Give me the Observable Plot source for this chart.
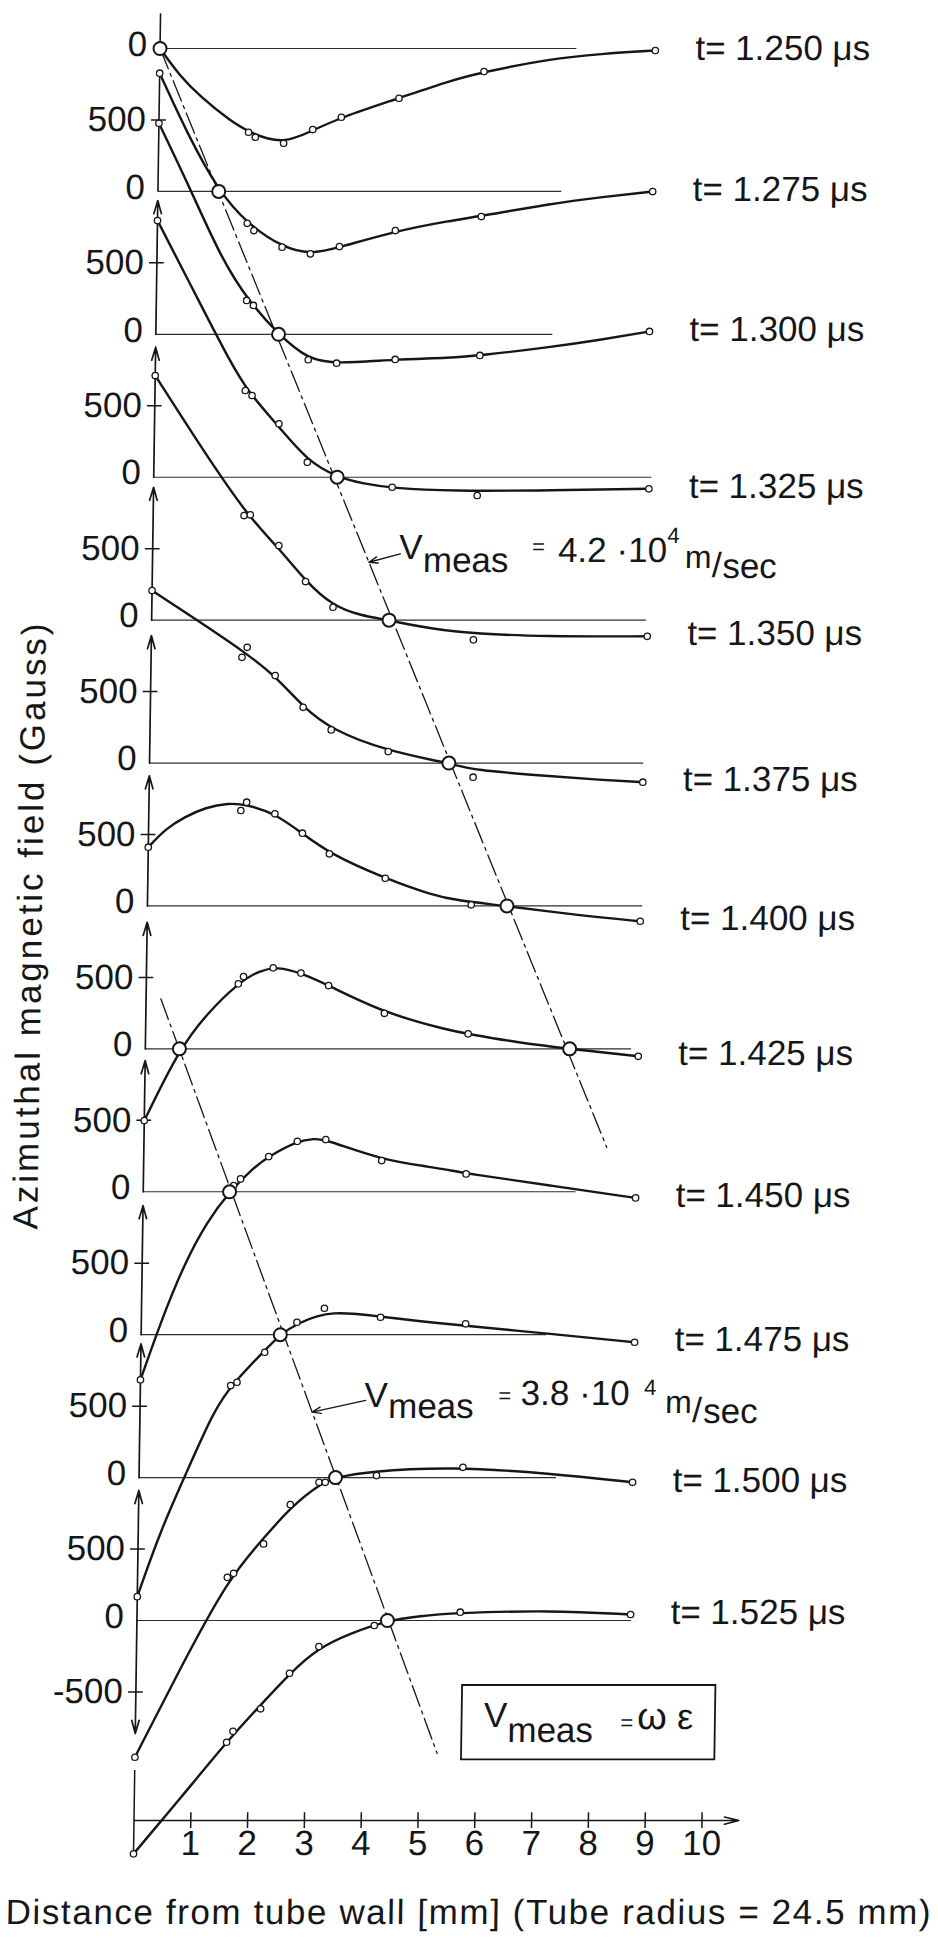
<!DOCTYPE html>
<html>
<head>
<meta charset="utf-8">
<script src="https://cdn.jsdelivr.net/npm/d3@7"></script>
<script src="https://cdn.jsdelivr.net/npm/@observablehq/plot@0.6"></script>
<style>
  html, body { margin: 0; padding: 0; background: #fff; overflow: hidden; }
  #chart { width: 938px; height: 1939px; }
  #chart svg { display: block; }
</style>
</head>
<body>
<div id="chart"></div>
<script>
// Azimuthal magnetic field profiles B(r) at successive times, distance in mm
// from the tube wall, field in Gauss. Each profile is drawn on its own
// baseline, stacked 1000 G apart.

const times = ["1.250", "1.275", "1.300", "1.325", "1.350", "1.375",
               "1.400", "1.425", "1.450", "1.475", "1.500", "1.525"];

// measured probe values [mm, G]
const pts1250 = [[0,0],[1.58,-586],[1.70,-621],[2.20,-663],[2.71,-567],[3.21,-481],[4.22,-348],[5.71,-161],[8.72,-14]];
const pts1275 = [[0,827],[1.58,-223],[1.70,-274],[2.20,-390],[2.70,-437],[3.21,-386],[4.19,-274],[5.70,-176],[8.71,-1]];
const pts1300 = [[0,1477],[1.59,237],[1.71,202],[2.69,-178],[3.19,-202],[4.22,-176],[5.71,-148],[8.69,20]];
const pts1325 = [[0,1796],[1.59,607],[1.71,572],[2.19,374],[2.70,105],[4.20,-70],[5.70,-128],[8.72,-81]];
const pts1350 = [[0,1712],[1.60,732],[1.71,737],[2.22,522],[2.70,270],[3.19,90],[5.67,-138],[8.73,-113]];
const pts1375 = [[0,1207],[1.60,740],[1.69,810],[2.19,612],[2.69,390],[3.19,232],[4.20,80],[5.70,-99],[8.69,-134]];
const pts1400 = [[0,411],[1.62,668],[1.72,726],[2.22,645],[2.71,509],[3.19,365],[4.18,194],[5.70,8],[8.68,-107]];
const pts1425 = [[0,-502],[1.62,455],[1.71,506],[2.23,567],[2.72,530],[3.21,443],[4.20,249],[5.68,105],[8.68,-52]];
const pts1450 = [[0,-1316],[1.59,44],[1.71,90],[2.20,246],[2.70,353],[3.20,365],[4.19,218],[5.68,125],[8.67,-43]];
const pts1475 = [[0,-1833],[1.59,-356],[1.70,-333],[2.18,-123],[2.74,87],[3.22,185],[4.21,122],[5.71,76],[8.69,-53]];
const pts1500 = [[0,-1957],[1.58,-698],[1.69,-670],[2.21,-464],[2.67,-189],[3.17,-33],[3.28,-33],[4.18,14],[5.70,72],[8.69,-33]];
const pts1525 = [[0,-1633],[1.61,-852],[1.72,-775],[2.20,-618],[2.70,-369],[3.21,-182],[4.18,-35],[5.69,58],[8.69,42]];

// hand-faired curves through the measurements [mm, G]
const fit1250 = [[0,0],[0.35,-190],[0.73,-340],[1.25,-505],[1.65,-600],[2.2,-668],[2.7,-575],[3.2,-483],[4.22,-348],[5.12,-224],[5.7,-165],[6.88,-72],[7.76,-37],[8.72,-14]];
const fit1275 = [[0,827],[0.5,405],[1.07,0],[1.58,-225],[2.2,-390],[2.7,-442],[3.21,-392],[4.19,-278],[5.15,-205],[5.7,-172],[6.91,-87],[7.79,-41],[8.71,-1]];
const fit1300 = [[0,1477],[0.57,1018],[1.15,516],[1.65,220],[2.16,0],[2.69,-178],[3.19,-206],[4.22,-176],[5.19,-165],[5.71,-148],[6.94,-90],[7.82,-39],[8.69,20]];
const fit1325 = [[0,1796],[0.8,1195],[1.3,820],[1.65,590],[2.19,355],[2.7,115],[3.23,0],[3.7,-45],[4.2,-76],[5.24,-98],[7.0,-92],[8.72,-81]];
const fit1350 = [[0,1712],[0.8,1225],[1.65,735],[2.22,505],[2.7,272],[3.19,98],[3.68,32],[4.18,0],[5.26,-91],[7.02,-115],[8.73,-113]];
const fit1375 = [[0,1207],[0.8,1000],[1.65,775],[2.19,610],[2.69,392],[3.19,234],[4.2,82],[5.27,0],[5.7,-50],[7.05,-92],[7.93,-118],[8.69,-134]];
const fit1400 = [[0,411],[0.3,540],[0.63,622],[1.0,690],[1.4,720],[1.72,710],[2.22,648],[2.71,507],[3.19,367],[4.18,192],[5.02,75],[5.45,38],[6.33,0],[7.67,-70],[8.68,-107]];
const fit1425 = [[0,-502],[0.6,0],[1.08,248],[1.62,462],[2.0,550],[2.3,574],[2.72,532],[3.21,444],[4.2,250],[5.36,128],[5.68,105],[6.53,46],[7.47,0],[8.68,-52]];
const fit1450 = [[0,-1316],[0.35,-902],[0.74,-505],[1.14,-202],[1.52,0],[1.94,171],[2.2,246],[2.7,355],[3.0,372],[3.2,366],[4.19,222],[5.10,171],[5.38,152],[5.68,128],[7.15,45],[8.67,-43]];
const fit1475 = [[0,-1833],[0.39,-1372],[0.85,-951],[1.30,-531],[1.62,-345],[2.18,-110],[2.45,0],[2.74,80],[3.35,172],[4.21,125],[5.45,72],[7.2,6],[8.69,-53]];
const fit1500 = [[0,-1957],[0.78,-1330],[1.6,-705],[2.21,-425],[2.67,-210],[3.2,-42],[3.46,0],[4.02,42],[5.48,77],[7.24,30],[8.69,-33]];
const fit1525 = [[0,-1633],[0.81,-1245],[1.65,-830],[2.2,-592],[2.7,-372],[3.21,-190],[3.76,-90],[4.41,0],[5.0,32],[5.52,51],[7.28,72],[8.69,42]];

// extent of each drawn zero line (mm) and of each field axis above it (G)
const zeroLineEnd = [7.34, 7.11, 6.99, 8.77, 8.71, 8.70, 8.72, 8.56, 7.62, 7.14, 7.35, 8.71];
const axisReach = [243, 811, 936, 910, 930, 892, 911, 886, 918, 903, 936, 910];
const axisFloor = -790;

// zero crossings of the two fronts (mm) and the fitted front lines [mm, stacked G]
const front1Cross = [0, 1.07, 2.16, 3.23, 4.18, 5.27, 6.33, 7.47];   // profiles 1.250 … 1.425
const front2Cross = [0.60, 1.52, 2.45, 3.46, 4.41];                   // profiles 1.425 … 1.525
const front1Line = [[0, 0], [8.15, -7690]];
const front2Line = [[0.26, -6650], [5.32, -11930]];

const distTicks = [1, 2, 3, 4, 5, 6, 7, 8, 9, 10];

// ---------------------------------------------------------------------------
const OFFSET = 1000;          // Gauss between stacked baselines
const AXIS_Y = -12400;        // stacked-G level of the distance axis
const ink = "#161616";

const measured = [pts1250, pts1275, pts1300, pts1325, pts1350, pts1375, pts1400, pts1425, pts1450, pts1475, pts1500, pts1525];
const fitted = [fit1250, fit1275, fit1300, fit1325, fit1350, fit1375, fit1400, fit1425, fit1450, fit1475, fit1500, fit1525];

const panels = times.map((t, i) => {
  const fit = fitted[i];
  const last = fit[fit.length - 1];
  return {t, i, base: -OFFSET * i, zeroEnd: zeroLineEnd[i], reach: axisReach[i],
          endX: last[0], endY: last[1] - OFFSET * i};
});
const curvePts = fitted.flatMap((fit, i) => fit.map(([x, g]) => ({t: times[i], x, y: g - OFFSET * i})));
const dotPts = measured.flatMap((m, i) => m.map(([x, g]) => ({t: times[i], x, y: g - OFFSET * i})));
const crossPts = [
  ...front1Cross.map((x, j) => ({x, y: -OFFSET * j})),
  ...front2Cross.map((x, j) => ({x, y: -OFFSET * (j + 7)}))
];
const zeroLabels = panels.map(p => ({y: p.base, label: "0"}));
const tickLabels = [
  ...panels.slice(1).map(p => ({y: p.base + 500, label: "500"})),
  {y: panels[11].base - 500, label: "-500"}
];
const lastStart = {x: 0, y: measured[11][0][1] - OFFSET * 11};

// annotation anchors (where the pointers touch the front lines) and the label pieces
const ann1Tip = {x: 3.81, y: -3595}, ann1Tail = {x: 4.36, y: -3536};
const ann2Tip = {x: 3.03, y: -9542}, ann2Tail = {x: 3.97, y: -9460};
const boxCorner = {x1: 5.75, x2: 10.21, y1: -11455, y2: -11975};

const ann1 = [
  {s: "V", dx: 30, dy: -3.5, f: 35},
  {s: "meas", dx: 54, dy: 9.7, f: 35},
  {s: "=", dx: 163, dy: -8, f: 22},
  {s: "4.2 \u00b710", dx: 189, dy: 0, f: 35},
  {s: "4", dx: 298, dy: -18.8, f: 22},
  {s: "m", dx: 316, dy: 6.2, f: 32},
  {s: "/", dx: 343, dy: 15, f: 35},
  {s: "sec", dx: 353.5, dy: 16.2, f: 35}
];
const ann2 = [
  {s: "V", dx: 52, dy: -5, f: 35},
  {s: "meas", dx: 76, dy: 6.3, f: 35},
  {s: "=", dx: 186, dy: -8.7, f: 22},
  {s: "3.8 \u00b710", dx: 208.4, dy: -6.7, f: 35},
  {s: "4", dx: 331.6, dy: -16.7, f: 22},
  {s: "m", dx: 353, dy: 1.3, f: 32},
  {s: "/", dx: 380, dy: 10, f: 35},
  {s: "sec", dx: 391, dy: 11.3, f: 35}
];
const annBox = [
  {s: "V", dx: 21.7, dy: 41.7, f: 35},
  {s: "meas", dx: 45.5, dy: 56.7, f: 35},
  {s: "=", dx: 158.4, dy: 44, f: 22},
  {s: "\u03c9", dx: 175, dy: 43.3, f: 38},
  {s: "\u03b5", dx: 215, dy: 43.3, f: 36}
];
const pieceMarks = (anchor, pieces) => pieces.map(p =>
  Plot.text([anchor], {x: "x", y: "y", text: () => p.s, dx: p.dx, dy: p.dy, fontSize: p.f,
    textAnchor: "start", lineAnchor: "bottom", fill: ink}));

const chart = Plot.plot({
  width: 938,
  height: 1939,
  margin: 0,
  style: {background: "#fff", fontFamily: "'Liberation Sans', Arial, sans-serif", fontSize: "35px", color: ink},
  x: {domain: [0, 10], range: [133.5, 701.5], axis: null},
  y: {domain: [-11000, 0], range: [1620, 48], axis: null},
  marks: [
    // zero lines
    Plot.ruleY(panels, {y: "base", x1: 0, x2: "zeroEnd", stroke: "#2e2e2e", strokeWidth: 1.2}),
    // field axes
    Plot.ruleX(panels.slice(0, 2), {x: 0, y1: "base", y2: d => d.base + d.reach, stroke: ink, strokeWidth: 1.6}),
    Plot.arrow(panels.slice(2), {x1: 0, y1: "base", x2: 0, y2: d => d.base + d.reach,
      stroke: ink, strokeWidth: 1.7, headLength: 12, headAngle: 32}),
    Plot.arrow([panels[11]], {x1: 0, y1: "base", x2: 0, y2: d => d.base + axisFloor,
      stroke: ink, strokeWidth: 1.7, headLength: 12, headAngle: 32}),
    Plot.ruleY(tickLabels, {y: "y", x1: -0.13, x2: 0.13, stroke: ink, strokeWidth: 1.5}),
    Plot.text(zeroLabels, {x: 0, y: "y", text: "label", textAnchor: "end", lineAnchor: "middle", dx: -13, dy: -4, fill: ink}),
    Plot.text(tickLabels, {x: 0, y: "y", text: "label", textAnchor: "end", lineAnchor: "middle", dx: -13, dy: 0, fill: ink}),

    // distance axis
    Plot.ruleX([lastStart], {x: "x", y1: AXIS_Y + 350, y2: "y", stroke: ink, strokeWidth: 1.5}),
    Plot.arrow([{}], {x1: 0, y1: AXIS_Y, x2: 10.65, y2: AXIS_Y, stroke: ink, strokeWidth: 1.6, headLength: 14, headAngle: 28}),
    Plot.ruleX(distTicks, {x: d => d, y1: AXIS_Y + 55, y2: AXIS_Y - 55, stroke: ink, strokeWidth: 1.5}),
    Plot.text(distTicks, {x: d => d, y: () => AXIS_Y, text: d => String(d), lineAnchor: "top", dy: 10, fill: ink}),

    // wave fronts
    Plot.line(front1Line, {x: d => d[0], y: d => d[1], stroke: ink, strokeWidth: 1.3, strokeDasharray: "22,5,3,5"}),
    Plot.line(front2Line, {x: d => d[0], y: d => d[1], stroke: ink, strokeWidth: 1.3, strokeDasharray: "22,5,3,5"}),

    // field profiles (smooth B-spline through the faired nodes)
    Plot.line(curvePts, {x: "x", y: "y", z: "t", curve: "basis", stroke: ink, strokeWidth: 2.4}),
    Plot.dot(dotPts, {x: "x", y: "y", r: 3.2, stroke: ink, strokeWidth: 1.3, fill: "#fff"}),
    Plot.dot(crossPts, {x: "x", y: "y", r: 6.5, stroke: ink, strokeWidth: 2, fill: "#fff"}),

    // time labels at the end of each profile
    Plot.text(panels, {x: "endX", y: "endY", text: d => `t= ${d.t} \u03bcs`, dx: 40, dy: -2,
      textAnchor: "start", lineAnchor: "middle", fill: ink}),

    // front velocity annotations
    Plot.arrow([{}], {x1: ann1Tail.x, y1: ann1Tail.y, x2: ann1Tip.x, y2: ann1Tip.y, stroke: ink, strokeWidth: 1.4, headLength: 10, headAngle: 40}),
    ...pieceMarks(ann1Tip, ann1),
    Plot.arrow([{}], {x1: ann2Tail.x, y1: ann2Tail.y, x2: ann2Tip.x, y2: ann2Tip.y, stroke: ink, strokeWidth: 1.4, headLength: 10, headAngle: 40}),
    ...pieceMarks(ann2Tip, ann2),
    Plot.rect([boxCorner], {x1: "x1", x2: "x2", y1: "y1", y2: "y2", fill: "none", stroke: ink, strokeWidth: 1.8}),
    ...pieceMarks({x: boxCorner.x1, y: boxCorner.y1}, annBox),

    // axis titles
    Plot.text(["Distance from tube wall [mm] (Tube radius = 24.5 mm)"], {frameAnchor: "bottom", text: d => d,
      dy: -16, lineAnchor: "bottom", fill: ink}),
    Plot.text(["Azimuthal magnetic field (Gauss)"], {frameAnchor: "left", text: d => d, rotate: -90,
      dx: 28, dy: -43.5, lineAnchor: "bottom", textAnchor: "middle", fill: ink})
  ]
});

// the drawing leans slightly: axes tilt toward the left going down
chart.style.transformOrigin = "0px 1820px";
chart.style.transform = "skewX(-0.842deg)";

// stretch the two axis titles across their full printed length
for (const node of chart.querySelectorAll("text")) {
  const s = node.textContent;
  if (s.startsWith("Distance from")) {
    node.setAttribute("textLength", "925");
    node.setAttribute("lengthAdjust", "spacing");
  } else if (s.startsWith("Azimuthal")) {
    node.setAttribute("textLength", "606");
    node.setAttribute("lengthAdjust", "spacing");
  }
}

document.getElementById("chart").append(chart);
</script>
</body>
</html>
